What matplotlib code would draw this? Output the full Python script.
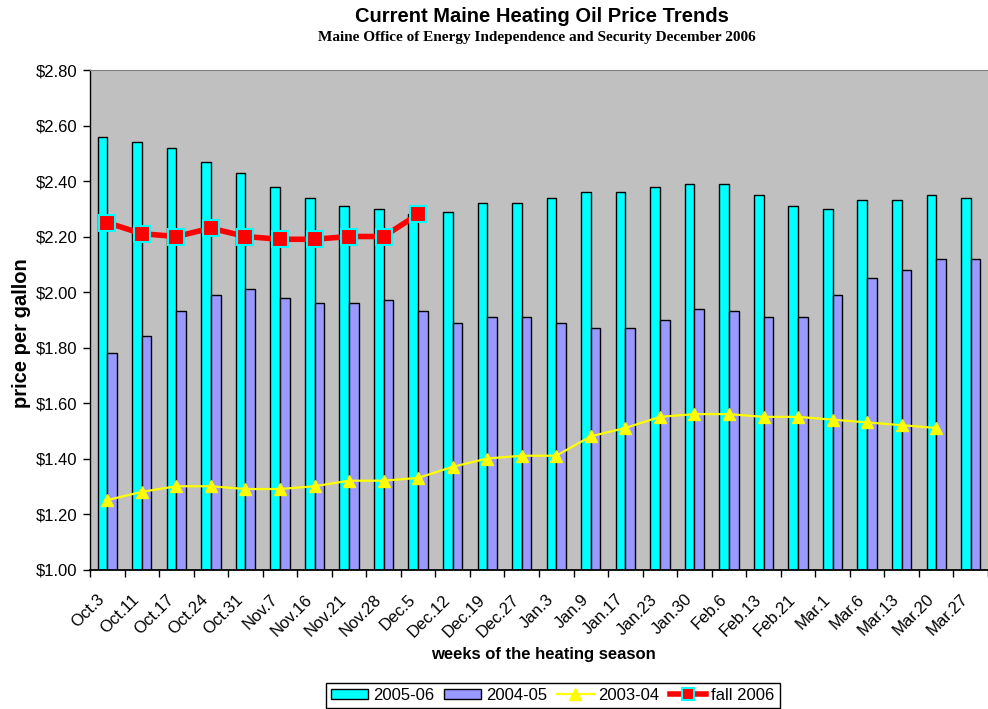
import matplotlib
matplotlib.use('Agg')
import matplotlib.pyplot as plt
import matplotlib.transforms as mtransforms
from matplotlib.patches import Patch
from matplotlib.lines import Line2D
import numpy as np

plt.rcParams['font.family'] = ['Liberation Sans', 'DejaVu Sans']

weeks = ['Oct.3', 'Oct.11', 'Oct.17', 'Oct.24', 'Oct.31', 'Nov.7', 'Nov.16', 'Nov.21',
         'Nov.28', 'Dec.5', 'Dec.12', 'Dec.19', 'Dec.27', 'Jan.3', 'Jan.9', 'Jan.17',
         'Jan.23', 'Jan.30', 'Feb.6', 'Feb.13', 'Feb.21', 'Mar.1', 'Mar.6', 'Mar.13',
         'Mar.20', 'Mar.27']
price_0506 = [2.56, 2.54, 2.52, 2.47, 2.43, 2.38, 2.34, 2.31, 2.30, 2.28, 2.29, 2.32, 2.32,
              2.34, 2.36, 2.36, 2.38, 2.39, 2.39, 2.35, 2.31, 2.30, 2.33, 2.33, 2.35, 2.34]
price_0405 = [1.78, 1.84, 1.93, 1.99, 2.01, 1.98, 1.96, 1.96, 1.97, 1.93, 1.89, 1.91, 1.91,
              1.89, 1.87, 1.87, 1.90, 1.94, 1.93, 1.91, 1.91, 1.99, 2.05, 2.08, 2.12, 2.12]
price_0304 = [1.25, 1.28, 1.30, 1.30, 1.29, 1.29, 1.30, 1.32, 1.32, 1.33, 1.37, 1.40, 1.41,
              1.41, 1.48, 1.51, 1.55, 1.56, 1.56, 1.55, 1.55, 1.54, 1.53, 1.52, 1.51]
price_fall06 = [2.25, 2.21, 2.20, 2.23, 2.20, 2.19, 2.19, 2.20, 2.20, 2.28]

fig = plt.figure(figsize=(9.88, 7.09), dpi=100)
ax = fig.add_axes([90/988, 139.5/709, 898/988, 499.5/709])

x = np.arange(len(weeks))
ax.bar(x - 0.14, price_0506, width=0.28, color='#00FFFF', edgecolor='black', linewidth=1, zorder=2)
ax.bar(x + 0.14, price_0405, width=0.28, color='#9999FF', edgecolor='black', linewidth=1, zorder=2)
ax.plot(np.arange(len(price_0304)), price_0304, color='#FFFF00', lw=1.6, marker='^', ms=8, zorder=3)
ax.plot(np.arange(len(price_fall06)), price_fall06, color='#FF0000', lw=4, marker='s', ms=11,
        mfc='#FF0000', mec='#00FFFF', mew=1.5, zorder=4)

ax.set_xlim(-0.5, -0.5 + 898/34.9)
ax.set_ylim(1.0, 2.8)
ax.set_facecolor('#C0C0C0')

yt = np.arange(1.0, 2.81, 0.2)
ax.set_yticks(yt)
ax.set_yticklabels(['${:.2f}'.format(v) for v in yt], fontsize=12)
ax.tick_params(axis='y', direction='out', length=5, width=1, pad=4)

ax.set_xticks(x)
ax.set_xticks(np.arange(-0.5, 25.6, 1), minor=True)
ax.set_xticklabels(weeks, rotation=45, ha='right', va='top', rotation_mode='anchor', fontsize=12)
ax.tick_params(axis='x', which='major', length=0, pad=16)
ax.tick_params(axis='x', which='minor', direction='out', length=5, width=1)
offset = mtransforms.ScaledTranslation(-10/100, 0, fig.dpi_scale_trans)
for lbl in ax.get_xticklabels():
    lbl.set_transform(lbl.get_transform() + offset)

ax.spines['right'].set_visible(False)
ax.spines['top'].set_color('#808080')
ax.spines['left'].set_linewidth(1)
ax.spines['bottom'].set_linewidth(1.3)

fig.text(542/988, 1 - 16/709, 'Current Maine Heating Oil Price Trends', ha='center', va='center',
         fontsize=14.5, fontweight='bold')
fig.text(537/988, 1 - 38/709, 'Maine Office of Energy Independence and Security December 2006',
         ha='center', va='center', fontsize=11, fontweight='bold', family='Liberation Serif')
fig.text(543/988, 1 - 655/709, 'weeks of the heating season', ha='center', va='center',
         fontsize=12, fontweight='bold')
fig.text(22/988, 1 - 333/709, 'price per gallon', ha='center', va='center', rotation=90,
         fontsize=14.5, fontweight='bold')

handles = [Patch(facecolor='#00FFFF', edgecolor='black', linewidth=1),
           Patch(facecolor='#9999FF', edgecolor='black', linewidth=1),
           Line2D([], [], color='#FFFF00', lw=1.6, marker='^', ms=8),
           Line2D([], [], color='#FF0000', lw=4, marker='s', ms=8, mfc='#FF0000', mec='#00FFFF', mew=1.5)]
labels = ['2005-06', '2004-05', '2003-04', 'fall 2006']
leg = fig.legend(handles, labels, loc='upper center', bbox_to_anchor=(553/988, 1 - 683/709),
                 ncol=4, frameon=True, fancybox=False, edgecolor='black', framealpha=1,
                 borderaxespad=0, fontsize=12, handlelength=2.2, handleheight=0.6,
                 handletextpad=0.3, columnspacing=0.6, borderpad=0.3)
leg.get_frame().set_linewidth(1)

fig.savefig('out.png', dpi=100)
